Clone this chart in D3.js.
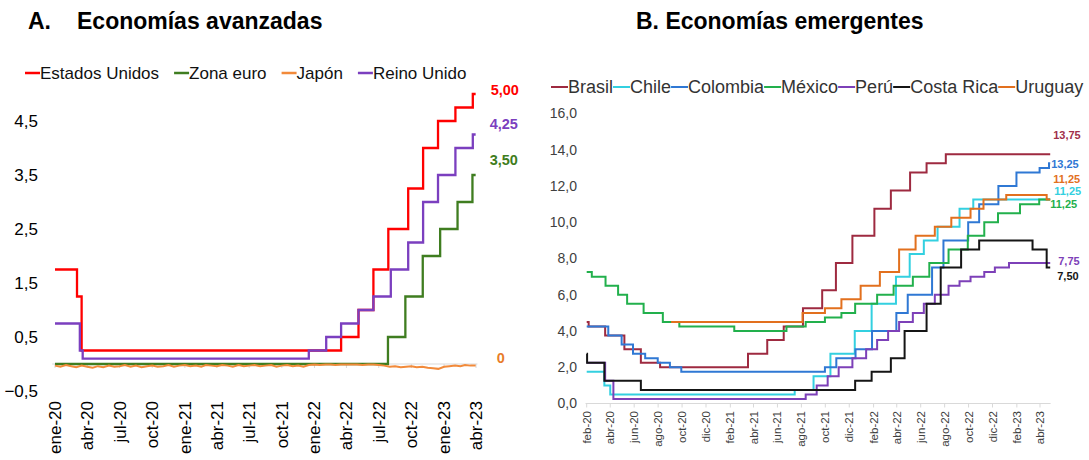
<!DOCTYPE html>
<html>
<head>
<meta charset="utf-8">
<script src="https://cdn.jsdelivr.net/npm/d3@7"></script>
<style>
  body { margin: 0; background: #fff; }
  text { font-family: "Liberation Sans", Arial, sans-serif; }
</style>
</head>
<body>
<div id="chart"></div>
<script>
// ---- datos ----
const meses = ["ene","feb","mar","abr","may","jun","jul","ago","sep","oct","nov","dic"];

// A. Economías avanzadas (cambios de tasa: fecha, valor)
const eeuu = [["2020-01-01",1.75],["2020-03-03",1.25],["2020-03-16",0.25],["2022-03-17",0.5],["2022-05-05",1.0],
  ["2022-06-16",1.75],["2022-07-28",2.5],["2022-09-22",3.25],["2022-11-03",4.0],["2022-12-15",4.5],
  ["2023-02-02",4.75],["2023-03-23",5.0]];
const zonaEuro = [["2020-01-01",0],["2022-07-27",0.5],["2022-09-14",1.25],["2022-11-02",2.0],["2022-12-21",2.5],
  ["2023-02-08",3.0],["2023-03-22",3.5]];
const reinoUnido = [["2020-01-01",0.75],["2020-03-11",0.25],["2020-03-19",0.1],["2021-12-16",0.25],["2022-02-03",0.5],
  ["2022-03-17",0.75],["2022-05-05",1.0],["2022-06-16",1.25],["2022-08-04",1.75],["2022-09-22",2.25],
  ["2022-11-03",3.0],["2022-12-15",3.5],["2023-02-02",4.0],["2023-03-23",4.25]];
// Japón: valores quincenales (día 1 y 16 de cada mes, ene-20 a mar-23)
const japon = [-0.03,-0.05,-0.02,-0.04,-0.06,-0.03,-0.05,-0.07,-0.04,-0.06,-0.03,-0.05,-0.04,-0.02,-0.05,-0.03,
  -0.06,-0.04,-0.03,-0.05,-0.04,-0.02,-0.05,-0.03,
  -0.02,-0.04,-0.03,-0.05,-0.02,-0.03,-0.04,-0.02,-0.03,-0.05,-0.02,-0.04,-0.03,-0.02,-0.04,-0.03,
  -0.02,-0.05,-0.03,-0.02,-0.04,-0.03,-0.05,-0.02,
  -0.01,-0.02,-0.01,-0.01,-0.02,-0.01,-0.01,-0.01,-0.01,-0.02,-0.01,-0.01,-0.02,-0.03,-0.05,-0.04,
  -0.06,-0.05,-0.04,-0.06,-0.05,-0.07,-0.08,-0.09,
  -0.05,-0.04,-0.03,-0.04,-0.02,-0.03];
const finA = "2023-03-31";

// B. Economías emergentes
const brasil = [["2020-02-01",4.5],["2020-02-06",4.25],["2020-03-19",3.75],["2020-05-07",3.0],["2020-06-18",2.25],
  ["2020-08-06",2.0],["2021-03-18",2.75],["2021-05-06",3.5],["2021-06-17",4.25],["2021-08-05",5.25],
  ["2021-09-23",6.25],["2021-10-28",7.75],["2021-12-09",9.25],["2022-02-03",10.75],["2022-03-17",11.75],
  ["2022-05-05",12.75],["2022-06-16",13.25],["2022-08-04",13.75]];
const chile = [["2020-02-01",1.75],["2020-03-17",1.0],["2020-04-01",0.5],["2021-07-15",0.75],["2021-09-01",1.5],
  ["2021-10-14",2.75],["2021-12-15",4.0],["2022-01-27",5.5],["2022-03-30",7.0],["2022-05-04",8.25],
  ["2022-06-09",9.0],["2022-07-14",9.75],["2022-09-08",10.75],["2022-10-13",11.25]];
const colombia = [["2020-02-01",4.25],["2020-03-27",3.75],["2020-04-30",3.25],["2020-05-29",2.75],["2020-06-29",2.5],
  ["2020-07-31",2.25],["2020-08-31",2.0],["2020-09-29",1.75],["2021-09-30",2.0],["2021-10-29",2.5],
  ["2021-12-17",3.0],["2022-01-28",4.0],["2022-03-31",5.0],["2022-04-29",6.0],["2022-06-30",7.5],
  ["2022-07-29",9.0],["2022-09-30",10.0],["2022-10-28",11.0],["2022-12-16",12.0],["2023-01-31",12.75],
  ["2023-03-31",13.0],["2023-04-24",13.25]];
const mexico = [["2020-02-01",7.25],["2020-02-14",7.0],["2020-03-20",6.5],["2020-04-21",6.0],["2020-05-14",5.5],
  ["2020-06-25",5.0],["2020-08-13",4.5],["2020-09-24",4.25],["2021-02-11",4.0],["2021-06-24",4.25],
  ["2021-08-12",4.5],["2021-09-30",4.75],["2021-11-11",5.0],["2021-12-16",5.5],["2022-02-10",6.0],
  ["2022-03-24",6.5],["2022-05-12",7.0],["2022-06-23",7.75],["2022-08-11",8.5],["2022-09-29",9.25],
  ["2022-11-10",10.0],["2022-12-15",10.5],["2023-02-09",11.0],["2023-03-30",11.25]];
const peru = [["2020-02-01",2.25],["2020-03-19",1.25],["2020-04-09",0.25],["2021-08-12",0.5],["2021-09-09",1.0],
  ["2021-10-07",1.5],["2021-11-04",2.0],["2021-12-09",2.5],["2022-01-13",3.0],["2022-02-10",3.5],
  ["2022-03-10",4.0],["2022-04-07",4.5],["2022-05-12",5.0],["2022-06-09",5.5],["2022-07-07",6.0],
  ["2022-08-11",6.5],["2022-09-08",6.75],["2022-10-06",7.0],["2022-11-10",7.25],["2022-12-07",7.5],
  ["2023-01-12",7.75]];
const costaRica = [["2020-02-01",2.75],["2020-02-02",2.25],["2020-03-17",1.25],["2020-06-18",0.75],["2021-12-16",1.25],
  ["2022-01-27",1.75],["2022-03-17",2.5],["2022-04-21",4.0],["2022-06-16",5.5],["2022-07-22",7.5],
  ["2022-09-12",8.5],["2022-10-28",9.0],["2023-03-13",8.5],["2023-04-18",7.5]];
const uruguay = [["2020-09-03",4.5],["2021-08-04",5.0],["2021-09-30",5.25],["2021-11-11",5.75],["2021-12-30",6.5],
  ["2022-02-17",7.25],["2022-04-07",8.5],["2022-05-19",9.25],["2022-07-07",9.75],["2022-08-18",10.25],
  ["2022-10-06",10.75],["2022-11-08",11.25],["2023-01-05",11.5],["2023-04-18",11.25]];
const finB = "2023-04-27";

const ticksA = [-0.5, 0.5, 1.5, 2.5, 3.5, 4.5];
const ticksB = [0, 2, 4, 6, 8, 10, 12, 14, 16];

const seriesA = [
  {name: "Estados Unidos", data: eeuu, color: "#ff0000"},
  {name: "Zona euro", data: zonaEuro, color: "#3f7d20"},
  {name: "Japón", data: null, color: "#f28a3a"},
  {name: "Reino Unido", data: reinoUnido, color: "#7b3fbf"}
];
const seriesB = [
  {name: "Brasil", data: brasil, color: "#9e2a40"},
  {name: "Chile", data: chile, color: "#33d0e0"},
  {name: "Colombia", data: colombia, color: "#2f78d4"},
  {name: "México", data: mexico, color: "#22b04c"},
  {name: "Perú", data: peru, color: "#7d40b8"},
  {name: "Costa Rica", data: costaRica, color: "#151515"},
  {name: "Uruguay", data: uruguay, color: "#e2701e"}
];
const etiquetasA = [
  {t: "5,00", v: 5.0, dx: 15, dy: -4, color: "#ff0000"},
  {t: "4,25", v: 4.25, dx: 14, dy: -11, color: "#7b3fbf"},
  {t: "3,50", v: 3.5, dx: 14, dy: -15, color: "#3f7d20"},
  {t: "0", v: 0, dx: 21, dy: -6, color: "#e87d2a"}
];
const etiquetasB = [
  {t: "13,75", v: 13.75, dx: 3, dy: -19, color: "#a0304a"},
  {t: "13,25", v: 13.25, dx: 1, dy: 1, color: "#2f78d4"},
  {t: "11,25", v: 11.25, dx: 3, dy: -20, color: "#e2701e"},
  {t: "11,25", v: 11.25, dx: 4, dy: -8.5, color: "#33d0e0"},
  {t: "11,25", v: 11.25, dx: 0, dy: 4.5, color: "#22b04c"},
  {t: "7,75", v: 7.75, dx: 8, dy: -1.5, color: "#7d40b8"},
  {t: "7,50", v: 7.5, dx: 7, dy: 9, color: "#151515"}
];

// ---- dibujo ----
const parse = d3.timeParse("%Y-%m-%d");
const loc = d3.formatLocale({decimal: ",", thousands: ".", grouping: [3], currency: ["", ""]});
const fmtMes = d => meses[d.getMonth()] + "-" + String(d.getFullYear()).slice(2);

const svg = d3.select("#chart").append("svg")
  .attr("width", 1089).attr("height", 460);

function stepPoints(data, fin) {
  let pts = data.map(d => [parse(d[0]), d[1]]);
  pts.push([parse(fin), data[data.length - 1][1]]);
  return pts;
}

// ---------- Panel A ----------
let xA = d3.scaleTime().domain([parse("2020-01-01"), parse("2023-04-01")]).range([55, 476]);
let yA = d3.scaleLinear().domain([-0.5, 5]).range([391, 94]);

svg.append("text").attr("x", 28).attr("y", 29).attr("font-size", 23).attr("font-weight", "bold").text("A.");
svg.append("text").attr("x", 77).attr("y", 29).attr("font-size", 23).attr("font-weight", "bold").text("Economías avanzadas");

let gyA = svg.append("g").attr("transform", "translate(41,0)")
  .call(d3.axisLeft(yA).tickValues(ticksA).tickSize(0).tickPadding(3).tickFormat(loc.format(".1f")));
gyA.select(".domain").remove();
gyA.selectAll("text").attr("font-size", 17).attr("fill", "#000");

// eje x en 0
let ticksMesA = d3.timeMonth.range(parse("2020-01-01"), parse("2023-04-02"), 3);
svg.append("line").attr("x1", xA(parse("2019-12-24"))).attr("x2", xA(parse("2023-04-05")))
  .attr("y1", yA(0)).attr("y2", yA(0)).attr("stroke", "#d9d9d9").attr("stroke-width", 1.2);
svg.selectAll(".tickA").data(ticksMesA).enter().append("line")
  .attr("x1", d => xA(d)).attr("x2", d => xA(d))
  .attr("y1", yA(0)).attr("y2", yA(0) + 4).attr("stroke", "#d9d9d9");
svg.selectAll(".labA").data(ticksMesA).enter().append("text")
  .attr("transform", d => `translate(${xA(d)},401) rotate(-90)`)
  .attr("text-anchor", "end").attr("dy", "0.35em")
  .attr("font-size", 17).attr("fill", "#000")
  .text(fmtMes);

let stepLineA = d3.line().x(d => xA(d[0])).y(d => yA(d[1])).curve(d3.curveStepAfter);
let japonPts = japon.map((v, i) => [new Date(2020, Math.floor(i / 2), i % 2 === 0 ? 1 : 16), v]);
japonPts.push([parse(finA), japon[japon.length - 1]]);

seriesA.forEach(s => {
  if (s.data === null) {
    svg.append("path").datum(japonPts)
      .attr("d", d3.line().x(d => xA(d[0])).y(d => yA(d[1])))
      .attr("fill", "none").attr("stroke", s.color).attr("stroke-width", 2);
  } else {
    svg.append("path").datum(stepPoints(s.data, finA))
      .attr("d", stepLineA)
      .attr("fill", "none").attr("stroke", s.color).attr("stroke-width", 2.3);
  }
});

// leyenda A
let lx = 25;
seriesA.forEach(s => {
  svg.append("line").attr("x1", lx).attr("x2", lx + 15).attr("y1", 73).attr("y2", 73)
    .attr("stroke", s.color).attr("stroke-width", 2.5);
  let t = svg.append("text").attr("x", lx + 15).attr("y", 73).attr("dy", "0.35em")
    .attr("font-size", 17).attr("fill", "#111").text(s.name);
  lx += 15 + t.node().getComputedTextLength() + 15;
});

let xEndA = xA(parse(finA));
etiquetasA.forEach(e => {
  svg.append("text").attr("x", xEndA + e.dx).attr("y", yA(e.v) + e.dy).attr("dy", "0.35em")
    .attr("font-size", 14.5).attr("font-weight", "bold").attr("fill", e.color).text(e.t);
});

// ---------- Panel B ----------
let xB = d3.scaleTime().domain([parse("2020-02-01"), parse("2023-04-01")]).range([586.7, 1040]);
let yB = d3.scaleLinear().domain([0, 16]).range([403.5, 113.5]);

svg.append("text").attr("x", 636).attr("y", 29).attr("font-size", 23).attr("font-weight", "bold")
  .text("B. Economías emergentes");

let gyB = svg.append("g").attr("transform", "translate(580,0)")
  .call(d3.axisLeft(yB).tickValues(ticksB).tickSize(0).tickPadding(3).tickFormat(loc.format(".1f")));
gyB.select(".domain").remove();
gyB.selectAll("text").attr("font-size", 14).attr("fill", "#404040");

let ticksMesB = d3.timeMonth.range(parse("2020-02-01"), parse("2023-04-02"), 2);
svg.append("line").attr("x1", xB(parse("2020-01-29"))).attr("x2", xB(parse("2023-04-28")))
  .attr("y1", yB(0)).attr("y2", yB(0)).attr("stroke", "#d9d9d9").attr("stroke-width", 1.2);
svg.selectAll(".tickB").data(ticksMesB).enter().append("line")
  .attr("x1", d => xB(d)).attr("x2", d => xB(d))
  .attr("y1", yB(0)).attr("y2", yB(0) + 4).attr("stroke", "#d9d9d9");
svg.selectAll(".labB").data(ticksMesB).enter().append("text")
  .attr("transform", d => `translate(${xB(d)},411) rotate(-90)`)
  .attr("text-anchor", "end").attr("dy", "0.35em")
  .attr("font-size", 11.5).attr("fill", "#404040")
  .text(fmtMes);

let stepLineB = d3.line().x(d => xB(d[0])).y(d => yB(d[1])).curve(d3.curveStepAfter);
seriesB.forEach(s => {
  svg.append("path").datum(stepPoints(s.data, finB))
    .attr("d", stepLineB)
    .attr("fill", "none").attr("stroke", s.color).attr("stroke-width", 2);
});

// leyenda B
let bx = 551;
seriesB.forEach(s => {
  svg.append("line").attr("x1", bx).attr("x2", bx + 17).attr("y1", 87).attr("y2", 87)
    .attr("stroke", s.color).attr("stroke-width", 2);
  let t = svg.append("text").attr("x", bx + 17).attr("y", 87).attr("dy", "0.35em")
    .attr("font-size", 18).attr("fill", "#333").text(s.name);
  bx += 17 + t.node().getComputedTextLength();
});

let xEndB = xB(parse(finB));
etiquetasB.forEach(e => {
  svg.append("text").attr("x", xEndB + e.dx).attr("y", yB(e.v) + e.dy).attr("dy", "0.35em")
    .attr("font-size", 11).attr("font-weight", "bold").attr("fill", e.color).text(e.t);
});
</script>
</body>
</html>
